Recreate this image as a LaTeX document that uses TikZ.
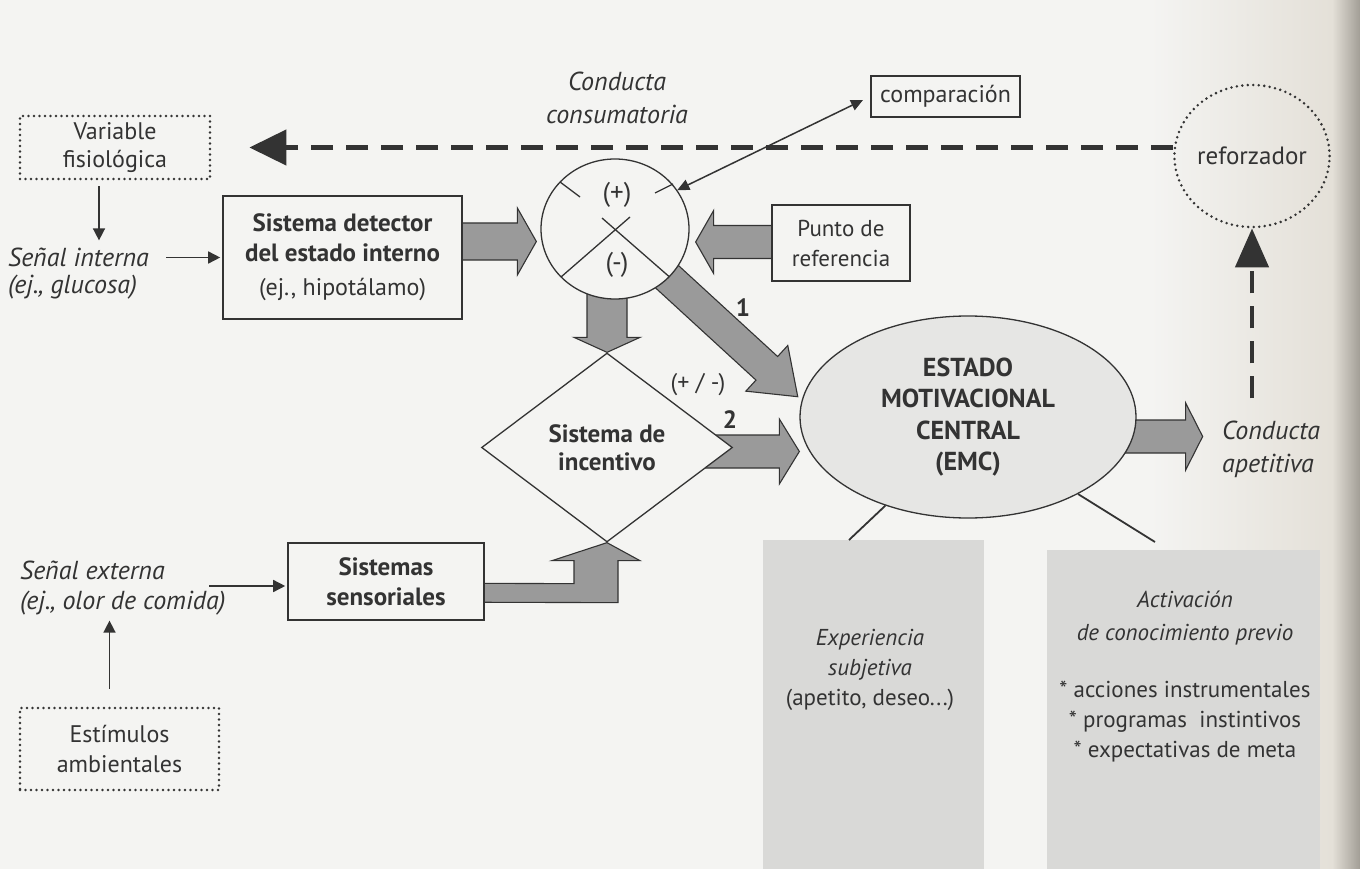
\documentclass[tikz,border=0pt]{standalone}
\usepackage{fontspec}
\setmainfont{PT Sans}
\usetikzlibrary{calc,arrows.meta,shapes.geometric}
\pgfdeclarelayer{back}
\pgfdeclarelayer{mid}
\pgfsetlayers{back,mid,main}
\definecolor{pagebg}{HTML}{F4F4F2}
\definecolor{pagewarm}{HTML}{E4E0D8}
\definecolor{pageedge}{HTML}{A29E96}
\definecolor{ink}{HTML}{333333}
\definecolor{arrowgray}{HTML}{9A9A9A}
\definecolor{boxgray}{HTML}{D9D9D7}
\definecolor{emcgray}{HTML}{E6E6E4}
\newcommand\fnorm{\fontsize{24}{30}\selectfont}
\newcommand\fboxt{\fontsize{23}{30}\selectfont}
\newcommand\fbold{\fontsize{25}{32}\selectfont\bfseries}
\newcommand\fital{\fontsize{26}{30}\selectfont\itshape}
\def\baA{17pt}\def\baB{33pt}\def\baH{19pt}
\tikzset{
 every node/.style={text=ink},
 plainbox/.style={draw=ink, line width=1.6pt, fill=pagebg, rectangle, inner sep=0pt, align=center, font=\fnorm},
 dotbox/.style={draw=ink, line width=2.8pt, dash pattern=on 0pt off 5.5pt, line cap=round, fill=pagebg, inner sep=0pt, align=center, font=\fnorm},
 lbl/.style={align=center, font=\fnorm, inner sep=0pt},
 itlbl/.style={align=center, font=\fital, inner sep=0pt},
 thinarr/.style={draw=ink, line width=1.5pt, -{Triangle[length=12pt,width=12pt]}},
 dasharr/.style={draw=ink, line width=4.6pt, dash pattern=on 22pt off 13pt},
 xline/.style={draw=ink, line width=1.3pt},
 conn/.style={draw=ink, line width=1.8pt},
 ba/.code args={#1/#2/#3}{\def\baA{#1}\def\baB{#2}\def\baH{#3}},
 bigarrow/.style={draw=ink, fill=arrowgray, line width=1.1pt, line join=miter,
   to path={($(\tikztostart)!\baA!90:(\tikztotarget)$)
     -- ($(\tikztotarget)!\baH!(\tikztostart)!\baA!90:(\tikztotarget)$)
     -- ($(\tikztotarget)!\baH!(\tikztostart)!\baB!90:(\tikztotarget)$)
     -- (\tikztotarget)
     -- ($(\tikztotarget)!\baH!(\tikztostart)!\baB!-90:(\tikztotarget)$)
     -- ($(\tikztotarget)!\baH!(\tikztostart)!\baA!-90:(\tikztotarget)$)
     -- ($(\tikztostart)!\baA!-90:(\tikztotarget)$) -- cycle}},
}
\begin{document}
\begin{tikzpicture}[x=1pt,y=-1pt]
\useasboundingbox (0,0) rectangle (1360,869);
\begin{pgfonlayer}{back}
\fill[pagebg] (0,0) rectangle (1360,869);
\shade[left color=pagebg, right color=pagewarm] (1150,0) rectangle (1332,869);
\shade[left color=pagewarm, right color=pageedge] (1332,0) rectangle (1360,869);
\end{pgfonlayer}

% nodes
\node[dotbox, minimum width=190pt, minimum height=63pt] (var) at (115,147.5) {Variable\\[-2pt]fisiológica};
\node[itlbl, align=left, anchor=west] (sint) at (8,273.5) {Señal interna\\[-3pt](ej., glucosa)};
\node[plainbox, minimum width=239pt, minimum height=123pt] (det) at (342.5,257.5) {{\fbold Sistema detector}\\{\fbold del estado interno}\\[4pt](ej., hipotálamo)};
\node[itlbl] (cons) at (617,98) {Conducta\\[3pt]consumatoria};
\node[plainbox, minimum width=149pt, minimum height=41pt] (comp) at (945.5,96.5) {comparación};
\node[dotbox, fill=none, ellipse, minimum width=132pt, minimum height=142pt, font=\fontsize{25}{30}\selectfont] (ref) at (1252,156) {reforzador};
\node[plainbox, minimum width=138pt, minimum height=76pt, font=\fboxt] (punto) at (841,243) {Punto de\\referencia};
\node[draw=ink, line width=1.3pt, fill=pagebg, ellipse, minimum width=148pt, minimum height=140pt, inner sep=0pt] (cmp) at (615,229) {};
\node[diamond, draw=ink, line width=1.3pt, fill=pagebg, minimum width=251pt, minimum height=189pt, inner sep=0pt, align=center, font=\fbold] (inc) at (607,447.5) {Sistema de\\[-4pt]incentivo};
\node[ellipse, draw=ink, line width=1.3pt, fill=emcgray, minimum width=336pt, minimum height=202pt, inner sep=0pt, align=center, font=\fontsize{26}{31.5}\selectfont\bfseries] (emc) at (968,417) {ESTADO\\MOTIVACIONAL\\CENTRAL\\(EMC)};
\node[itlbl, align=left, anchor=west] (apet) at (1222,449) {Conducta\\[3pt]apetitiva};
\node[itlbl, align=left, anchor=west] (sext) at (20,588) {Señal externa\\(ej., olor de comida)};
\node[plainbox, minimum width=196pt, minimum height=77pt, font=\fbold] (sens) at (386,581.5) {Sistemas\\[-2pt]sensoriales};
\node[dotbox, minimum width=199pt, minimum height=82pt] (est) at (119.5,749) {Estímulos\\ambientales};
\node[fill=boxgray, minimum width=221pt, minimum height=329pt, inner sep=0pt, anchor=north west] (expbox) at (763,540) {};
\node[fill=boxgray, minimum width=273pt, minimum height=319pt, inner sep=0pt, anchor=north west] (actbox) at (1047,550) {};
\node[lbl, font=\fboxt] (exptext) at (870,670) {{\itshape Experiencia}\\{\itshape subjetiva}\\(apetito, deseo...)};
\node[lbl, font=\fboxt] (acttext) at (1185,618) {{\itshape Activación}\\[3pt]{\itshape de conocimiento previo}};
\node[lbl, font=\fboxt] (actlist) at (1185,722) {* acciones instrumentales\\* programas\ \ instintivos\\* expectativas de meta};

% comparator marks
\draw[xline] ($(cmp.center)+(-54,48)$) -- ($(cmp.center)+(15,-12)$);
\draw[xline] ($(cmp.center)+(54,47.5)$) -- ($(cmp.center)+(-13,-11)$);
\draw[xline] ($(cmp.center)+(-55,-47)$) -- ($(cmp.center)+(-35,-32)$);
\draw[xline] ($(cmp.center)+(40,-36)$) -- ($(cmp.center)+(58,-45)$);
\node[lbl, font=\fontsize{27}{30}\selectfont] (plus) at (617,195) {(+)};
\node[lbl, font=\fontsize{27}{30}\selectfont] (minus) at (617,265) {(-)};

% labels on arrows
\node[lbl, font=\fbold] (n1) at (743,308) {1};
\node[lbl] (pm) at (698,385) {(+ / -)};
\node[lbl, font=\fbold] (n2) at (730,420) {2};

% arrow coordinates
\coordinate (ads) at ($(det.east)+(-40,-16)$);
\coordinate (adt) at ($(cmp.west)+(-4,12.5)$);
\coordinate (aps) at ($(punto.west)+(40,-1)$);
\coordinate (apt) at ($(cmp.east)+(6,13)$);
\coordinate (acs) at ($(cmp.center)+(-8,0)$);
\coordinate (a1t) at ($(emc.173)+(-5,0)$);
\coordinate (a2s) at ($(inc.center)+(0,4)$);
\coordinate (a2t) at ($(emc.west)+(0,34.5)$);
\coordinate (aes) at ($(emc.center)+(0,19.5)$);
\coordinate (aet) at ($(emc.east)+(66,19.5)$);

\begin{pgfonlayer}{mid}
\draw[bigarrow, ba={18.5pt/33.5pt/19pt}] (ads) to (adt);
\draw[bigarrow, ba={16.5pt/31.5pt/18pt}] (aps) to (apt);
\draw[bigarrow, ba={20pt/33pt/15pt}] (acs) to (inc.north);
\draw[bigarrow, ba={16pt/31pt/42pt}] (cmp.center) to (a1t);
\draw[bigarrow, ba={16.5pt/32.5pt/20pt}] (a2s) to (a2t);
\draw[bigarrow, ba={16.5pt/33.5pt/17pt}] (aes) to (aet);
\draw[draw=ink, fill=arrowgray, line width=1.1pt, line join=miter]
  ($(sens.center)+(0,1.5)$) -- ($(inc.south)+(-33,41)$) -- ($(inc.south)+(-33,18)$)
  -- ($(inc.south)+(-55,18)$) -- (inc.south) -- ($(inc.south)+(33,18)$)
  -- ($(inc.south)+(11,18)$) -- ($(inc.south)+(11,60)$) -- ($(sens.center)+(0,20.5)$) -- cycle;
\end{pgfonlayer}

% thin arrows
\draw[thinarr] ($(var.south)+(-16,6)$) -- ($(var.south)+(-16,60)$);
\draw[thinarr] ($(det.west)+(-56,0)$) -- ($(det.west)+(-2,0)$);
\draw[thinarr] ($(sens.west)+(-78,4.5)$) -- ($(sens.west)+(-2,4.5)$);
\draw[thinarr] ($(est.north)+(-10,-18)$) -- ($(est.north)+(-10,-86)$);
\draw[thinarr, {Triangle[length=12pt,width=11pt]}-{Triangle[length=12pt,width=11pt]}, shorten >=8pt] (cmp.32) -- (comp.west);

% dashed feedback arrows
\coordinate (apup) at ($(ref.south)+(0,170)$);
\draw[dasharr, -{Triangle[length=37pt,width=35pt]}, shorten >=38pt] (var.east -| ref.west) -- (var.east);
\draw[dasharr, -{Triangle[length=39pt,width=33pt]}] (apup) -- (ref.south);

% EMC links
\coordinate (expTop) at ($(expbox.north west)+(86,0)$);
\coordinate (actTop) at ($(actbox.north west)+(108,-8)$);
\draw[conn] (emc.227) -- (expTop);
\draw[conn] (emc.325) -- (actTop);
\end{tikzpicture}
\end{document}
